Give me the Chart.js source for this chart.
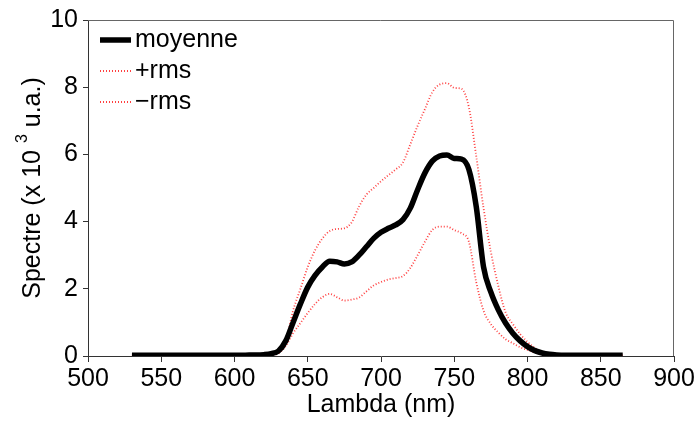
<!DOCTYPE html>
<html>
<head>
<meta charset="utf-8">
<script src="https://cdn.jsdelivr.net/npm/chart.js@4/dist/chart.umd.min.js"></script>
<style>
  body { margin: 0; background: #fff; }
  #wrap { width: 700px; height: 425px; position: relative; }
</style>
</head>
<body>
<div id="wrap"><canvas id="spectre"></canvas></div>
<script>
// wavelengths (nm), 5 nm steps
const lambda = [];
for (let l = 530; l <= 865; l += 5) lambda.push(l);

// spectre moyen (x 10^3 u.a.)
const moyenne = [
  0.02, 0.02, 0.02, 0.02, 0.02, 0.02, 0.02, 0.02, 0.02, 0.02, 0.02, 0.02, 0.02, 0.02, 0.02, // 530-600
  0.02, 0.03, 0.03, 0.04, 0.07, 0.15, 0.45, 1.0, 1.55, 2.05, 2.4, 2.65, 2.82, 2.8, 2.74,     // 605-675
  2.8, 3.0, 3.25, 3.5, 3.68, 3.8, 3.9, 4.06, 4.4, 4.95, 5.45, 5.8, 5.95, 5.98, 5.88,          // 680-750
  5.86, 5.55, 4.45, 2.65, 1.9, 1.38, 0.98, 0.68, 0.45, 0.28, 0.16, 0.09, 0.05, 0.03, 0.02,   // 755-825
  0.02, 0.02, 0.02, 0.02, 0.02, 0.02, 0.02, 0.02                                            // 830-865
];
const plusRms = [
  0.03, 0.03, 0.03, 0.03, 0.03, 0.03, 0.03, 0.03, 0.03, 0.03, 0.03, 0.03, 0.03, 0.03, 0.03,
  0.03, 0.03, 0.04, 0.06, 0.1, 0.15, 0.45, 1.35, 2.0, 2.65, 3.15, 3.5, 3.72, 3.78, 3.8,
  3.98, 4.45, 4.8, 5.0, 5.2, 5.38, 5.55, 5.76, 6.3, 6.85, 7.35, 7.85, 8.08, 8.12, 7.98,
  7.95, 7.4, 5.95, 4.4, 3.1, 2.1, 1.3, 0.95, 0.65, 0.42, 0.24, 0.12, 0.06, 0.04, 0.03,
  0.03, 0.03, 0.03, 0.03, 0.03, 0.03, 0.03, 0.03
];
const moinsRms = [
  0.01, 0.01, 0.01, 0.01, 0.01, 0.01, 0.01, 0.01, 0.01, 0.01, 0.01, 0.01, 0.01, 0.01, 0.01,
  0.01, 0.01, 0.01, 0.01, 0.03, 0.08, 0.3, 0.68, 0.98, 1.28, 1.55, 1.75, 1.85, 1.75, 1.65,
  1.68, 1.74, 1.92, 2.1, 2.2, 2.28, 2.32, 2.38, 2.62, 3.0, 3.4, 3.75, 3.85, 3.85, 3.75,
  3.65, 3.4, 2.2, 1.35, 0.95, 0.7, 0.5, 0.38, 0.26, 0.18, 0.1, 0.06, 0.03, 0.01, 0.01,
  0.01, 0.01, 0.01, 0.01, 0.01, 0.01, 0.01, 0.01
];
const legendLabels = ['moyenne', '+rms', '\u2212rms'];

const FONT = '"Liberation Sans", Arial, sans-serif';
const FS = 25;
const toPoints = (ys) => lambda.map((x, i) => ({ x: x, y: ys[i] }));
const red = 'rgba(255,0,0,0.75)';

// frame, axis titles and legend drawn on top
const extras = {
  id: 'extras',
  afterDraw(chart) {
    const { ctx, chartArea: a } = chart;
    ctx.save();
    ctx.strokeStyle = '#666';
    ctx.lineWidth = 1;
    ctx.beginPath();
    ctx.moveTo(a.left, a.top + 0.5);
    ctx.lineTo(a.right - 0.5, a.top + 0.5);
    ctx.lineTo(a.right - 0.5, a.bottom);
    ctx.stroke();

    ctx.fillStyle = '#000';
    ctx.font = FS + 'px ' + FONT;
    ctx.textBaseline = 'middle';
    ctx.textAlign = 'center';
    ctx.fillText('Lambda (nm)', (a.left + a.right) / 2, 405);

    // y title with superscript
    ctx.translate(33, (a.top + a.bottom) / 2);
    ctx.rotate(-Math.PI / 2);
    const p1 = 'Spectre (x 10 ', p2 = '3', p3 = ' u.a.)';
    ctx.font = FS + 'px ' + FONT;
    const w1 = ctx.measureText(p1).width, w3 = ctx.measureText(p3).width;
    ctx.font = '16px ' + FONT;
    const w2 = ctx.measureText(p2).width;
    let x = -(w1 + w2 + w3) / 2;
    ctx.textAlign = 'left';
    ctx.font = FS + 'px ' + FONT;
    ctx.fillText(p1, x, 0);
    x += w1;
    ctx.font = '16px ' + FONT;
    ctx.fillText(p2, x, -10);
    x += w2;
    ctx.font = FS + 'px ' + FONT;
    ctx.fillText(p3, x, 0);
    ctx.restore();

    // legend
    ctx.save();
    ctx.font = FS + 'px ' + FONT;
    ctx.textBaseline = 'middle';
    ctx.textAlign = 'left';
    chart.data.datasets.forEach((ds, i) => {
      const y = 40 + i * 31;
      ctx.strokeStyle = ds.borderColor;
      ctx.lineWidth = ds.borderWidth;
      ctx.setLineDash(ds.borderDash || []);
      ctx.beginPath();
      ctx.moveTo(100, y);
      ctx.lineTo(131, y);
      ctx.stroke();
      ctx.fillStyle = '#000';
      ctx.fillText(legendLabels[i], 135, y);
    });
    ctx.restore();
  },
};

new Chart(document.getElementById('spectre'), {
  type: 'line',
  data: {
    datasets: [
      {
        label: legendLabels[0],
        data: toPoints(moyenne),
        borderColor: '#000',
        borderWidth: 5.5,
        pointRadius: 0,
        cubicInterpolationMode: 'monotone',
      },
      {
        label: legendLabels[1],
        data: toPoints(plusRms),
        borderColor: red,
        borderWidth: 1.8,
        borderDash: [1, 2],
        pointRadius: 0,
        cubicInterpolationMode: 'monotone',
      },
      {
        label: legendLabels[2],
        data: toPoints(moinsRms),
        borderColor: red,
        borderWidth: 1.8,
        borderDash: [1, 2],
        pointRadius: 0,
        cubicInterpolationMode: 'monotone',
      },
    ],
  },
  options: {
    animation: false,
    responsive: true,
    maintainAspectRatio: false,
    layout: { padding: { top: 16, right: 26, left: 0, bottom: 0 } },
    plugins: {
      legend: { display: false },
      tooltip: { enabled: false },
    },
    scales: {
      x: {
        type: 'linear',
        min: 500,
        max: 900,
        afterFit: (s) => { s.height = 69; },
        ticks: { stepSize: 50, color: '#000', font: { family: FONT, size: FS }, padding: 2, maxRotation: 0 },
        grid: { drawOnChartArea: false, tickLength: 6, tickColor: '#333' },
        border: { color: '#333', width: 1 },
      },
      y: {
        min: 0,
        max: 10,
        afterFit: (s) => { s.width = 88; },
        ticks: { stepSize: 2, color: '#000', font: { family: FONT, size: FS }, padding: 5 },
        grid: { drawOnChartArea: false, tickLength: 5, tickColor: '#333' },
        border: { color: '#333', width: 1 },
      },
    },
  },
  plugins: [extras],
});
</script>
</body>
</html>
